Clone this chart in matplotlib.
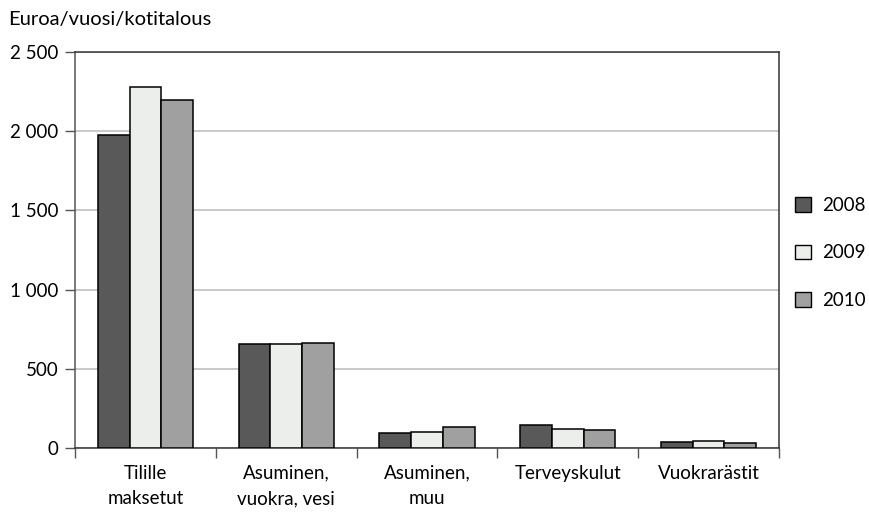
import numpy as np
import matplotlib.pyplot as plt
from matplotlib.patches import Patch

categories = ['Tilille\nmaksetut', 'Asuminen,\nvuokra, vesi', 'Asuminen,\nmuu',
              'Terveyskulut', 'Vuokrarästit']
years = ['2008', '2009', '2010']
v2008 = [1975, 655, 95, 145, 35]
v2009 = [2280, 655, 100, 120, 45]
v2010 = [2195, 660, 130, 115, 33]
yticks = [0, 500, 1000, 1500, 2000, 2500]
ytick_labels = ['0', '500', '1 000', '1 500', '2 000', '2 500']

colors = ['#595959', '#eceeec', '#a0a0a0']

plt.rcParams['font.family'] = ['Lato', 'DejaVu Sans']
fs = 13.5

fig = plt.figure(figsize=(8.7, 5.13), dpi=100)
ax = fig.add_axes([0.0862, 0.1267, 0.8092, 0.7719])

x = np.arange(len(categories))
w = 0.225
for i, (vals, c) in enumerate(zip([v2008, v2009, v2010], colors)):
    ax.bar(x + (i - 1) * w, vals, width=w, color=c, edgecolor='black',
           linewidth=1.1, zorder=3, label=years[i])

ax.set_xlim(-0.5, len(categories) - 0.5)
ax.set_ylim(0, 2500)
ax.set_yticks(yticks)
ax.set_yticklabels(ytick_labels, fontsize=fs)
ax.yaxis.grid(True, color='#c0c0c0', linewidth=1.2, zorder=0)

# category labels centered, ticks at boundaries
ax.set_xticks(x)
ax.set_xticklabels(categories, fontsize=fs, linespacing=1.6, va='top')
ax.tick_params(axis='x', length=0, pad=12)
ax.set_xticks(np.arange(-0.5, len(categories)), minor=True)
ax.tick_params(axis='x', which='minor', length=7, color='#555555', width=1)
ax.tick_params(axis='y', length=7, color='#555555', width=1, pad=5)

for s in ax.spines.values():
    s.set_color('#333333')
    s.set_linewidth(1.1)
ax.spines['left'].set_color('#555555')

handles = [Patch(facecolor=c, edgecolor='black', linewidth=1.0, label=y)
           for c, y in zip(colors, years)]
fig.legend(handles=handles, loc='center left', bbox_to_anchor=(795 / 870, 1 - 253 / 513),
           frameon=False, fontsize=fs, handlelength=0.85, handleheight=0.85,
           labelspacing=1.65, handletextpad=0.6, borderpad=0, borderaxespad=0)

fig.text(0.009, 0.962, 'Euroa/vuosi/kotitalous', fontsize=14.5, va='center', ha='left')

fig.savefig('out.png', dpi=100, facecolor='white')
